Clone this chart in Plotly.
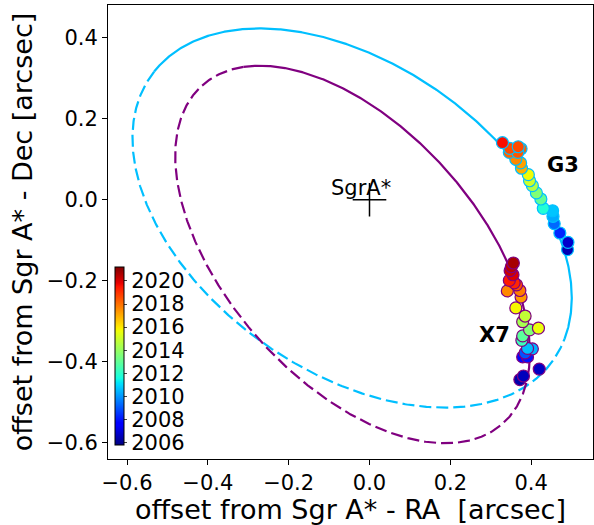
import numpy as np
import plotly.graph_objects as go

# ---- data ----
g3_ra = [0.329, 0.347, 0.368, 0.375, 0.346, 0.367, 0.362, 0.374, 0.376, 0.393, 0.396,
         0.403, 0.413, 0.424, 0.430, 0.453, 0.454, 0.457, 0.471, 0.491, 0.490]
g3_dec = [0.141, 0.127, 0.131, 0.126, 0.117, 0.117, 0.100, 0.091, 0.078, 0.062, 0.047,
          0.035, 0.017, 0.002, -0.021, -0.027, -0.041, -0.059, -0.082, -0.105, -0.123]
g3_year = [2019.6, 2018.6, 2018.6, 2018.3, 2018.2, 2018.4, 2017.6, 2017.2, 2017.0, 2015.7, 2015.0,
           2014.5, 2013.6, 2013.0, 2011.8, 2010.7, 2010.3, 2009.3, 2008.3, 2006.8, 2006.5]

x7_ra = [0.356, 0.351, 0.348, 0.355, 0.346, 0.358, 0.364, 0.341, 0.372, 0.375, 0.362, 0.385,
         0.379, 0.396, 0.418, 0.379, 0.377, 0.391, 0.403, 0.379, 0.391, 0.385, 0.420, 0.381, 0.372]
x7_dec = [-0.156, -0.165, -0.175, -0.185, -0.199, -0.205, -0.210, -0.225, -0.224, -0.240, -0.267,
          -0.287, -0.301, -0.321, -0.317, -0.336, -0.347, -0.367, -0.368, -0.388, -0.388, -0.378,
          -0.418, -0.435, -0.444]
x7_year = [2020.7, 2020.4, 2020.2, 2020.0, 2019.4, 2019.2, 2018.6, 2017.6, 2017.8, 2017.3, 2015.8,
           2014.8, 2014.3, 2013.6, 2015.6, 2012.9, 2012.3, 2010.6, 2010.4, 2007.8, 2008.0, 2009.0,
           2006.7, 2006.6, 2006.4]

# projected orbit ellipses: centre (RA, Dec), semi-axes, position angle (deg), solid arc (deg)
g3_orbit = dict(cx=-0.043, cy=-0.045, a=0.609, b=0.379, ang=-35.2, solid=(9, 178))
x7_orbit = dict(cx=-0.042, cy=-0.135, a=0.559, b=0.312, ang=-48.3, solid=(22, 160))

year_min, year_max = 2005.8, 2021.2
cbar_ticks = [2006, 2008, 2010, 2012, 2014, 2016, 2018, 2020]
x_ticks = [-0.6, -0.4, -0.2, 0.0, 0.2, 0.4]
y_ticks = [-0.6, -0.4, -0.2, 0.0, 0.2, 0.4]


def ellipse(o, t0, t1):
    t = np.radians(np.linspace(t0, t1, 400))
    th = np.radians(o["ang"])
    ux, uy = np.cos(th), np.sin(th)
    vx, vy = -np.sin(th), np.cos(th)
    x = o["cx"] + o["a"] * np.cos(t) * ux + o["b"] * np.sin(t) * vx
    y = o["cy"] + o["a"] * np.cos(t) * uy + o["b"] * np.sin(t) * vy
    return x, y


def jet():
    r = [(0, 0), (0.35, 0), (0.66, 1), (0.89, 1), (1, 0.5)]
    g = [(0, 0), (0.125, 0), (0.375, 1), (0.64, 1), (0.91, 0), (1, 0)]
    b = [(0, 0.5), (0.11, 1), (0.34, 1), (0.65, 0), (1, 0)]
    stops = sorted(set([p for p, _ in r + g + b]))
    def f(ch, s):
        xs, ys = zip(*ch)
        return np.interp(s, xs, ys)
    return [[s, "rgb(%d,%d,%d)" % (round(255 * f(r, s)), round(255 * f(g, s)), round(255 * f(b, s)))]
            for s in stops]


JET = jet()
BLUE = "#00BFFF"
PURPLE = "#800080"
FONT = "DejaVu Sans"

fig = go.Figure()

for o, col in [(g3_orbit, BLUE), (x7_orbit, PURPLE)]:
    s0, s1 = o["solid"]
    xs, ys = ellipse(o, s0, s1)
    fig.add_trace(go.Scatter(x=xs, y=ys, mode="lines", line=dict(color=col, width=2.2),
                             hoverinfo="skip", showlegend=False))
    xd, yd = ellipse(o, s1, s0 + 360)
    fig.add_trace(go.Scatter(x=xd, y=yd, mode="lines",
                             line=dict(color=col, width=2.2, dash="12px,5px"),
                             hoverinfo="skip", showlegend=False))


def sorted_pts(ra, dec, yr):
    idx = np.argsort(yr, kind="stable")
    return ([ra[i] for i in idx], [dec[i] for i in idx], [yr[i] for i in idx])


ra, dec, yr = sorted_pts(g3_ra, g3_dec, g3_year)
fig.add_trace(go.Scatter(
    x=ra, y=dec, mode="markers", showlegend=False,
    marker=dict(size=12, color=yr, colorscale=JET, cmin=year_min, cmax=year_max,
                line=dict(color=BLUE, width=1.2), showscale=False)))

ra, dec, yr = sorted_pts(x7_ra, x7_dec, x7_year)
fig.add_trace(go.Scatter(
    x=ra, y=dec, mode="markers", showlegend=False,
    marker=dict(size=12, color=yr, colorscale=JET, cmin=year_min, cmax=year_max,
                line=dict(color=PURPLE, width=1.2), showscale=True,
                colorbar=dict(x=0.0144, xanchor="left", xref="paper",
                              y=0.0308, yanchor="bottom", yref="paper",
                              len=0.392, lenmode="fraction", thickness=9,
                              outlinecolor="black", outlinewidth=1,
                              tickvals=cbar_ticks, ticks="outside", ticklen=3,
                              tickfont=dict(family=FONT, size=21, color="black"),
                              bgcolor="rgba(0,0,0,0)", xpad=0, ypad=0))))

# Sgr A* cross
fig.add_trace(go.Scatter(x=[0.0], y=[0.0], mode="markers", showlegend=False,
                         marker=dict(symbol="cross-thin", size=24,
                                     line=dict(color="black", width=1.5))))

fig.add_annotation(x=-0.022, y=0.03, text="SgrA*", showarrow=False,
                   font=dict(family=FONT, size=21, color="black"))
fig.add_annotation(x=0.479, y=0.086, text="<b>G3</b>", showarrow=False,
                   font=dict(family=FONT, size=21, color="black"))
fig.add_annotation(x=0.309, y=-0.333, text="<b>X7</b>", showarrow=False,
                   font=dict(family=FONT, size=21, color="black"))

axis_common = dict(showgrid=False, zeroline=False, showline=True, linecolor="black",
                   linewidth=1, mirror=True, ticks="outside", ticklen=5,
                   tickcolor="black", tickfont=dict(family=FONT, size=21, color="black"))

fig.update_xaxes(range=[-0.647, 0.553], tickvals=x_ticks,
                 ticktext=[("%.1f" % v).replace("-", "\u2212") for v in x_ticks],
                 title=dict(text="offset from Sgr A* - RA \u00a0[arcsec]",
                            font=dict(family=FONT, size=27, color="black"), standoff=4),
                 **axis_common)
fig.update_yaxes(range=[-0.640, 0.481], tickvals=y_ticks,
                 ticktext=[("%.1f" % v).replace("-", "\u2212") for v in y_ticks],
                 title=dict(text="offset from Sgr A* - Dec [arcsec]",
                            font=dict(family=FONT, size=27, color="black"), standoff=6),
                 **axis_common)

fig.update_layout(width=594, height=525, margin=dict(l=108, r=1, t=5, b=66),
                  plot_bgcolor="white", paper_bgcolor="white")

fig.write_html("out.html")
